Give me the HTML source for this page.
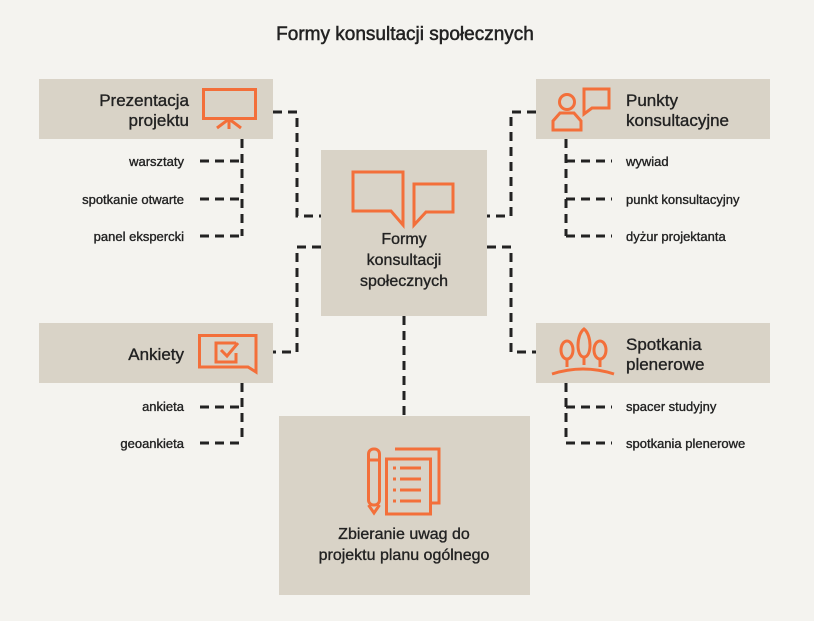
<!DOCTYPE html>
<html><head><meta charset="utf-8"><style>
html,body{margin:0;padding:0;background:#f4f3ef;}
svg{display:block}
text{font-family:"Liberation Sans",sans-serif;fill:#222;stroke:#222;stroke-width:0.35;}
</style></head><body>
<svg width="814" height="621" viewBox="0 0 814 621" xmlns="http://www.w3.org/2000/svg">
<rect width="814" height="621" fill="#f4f3ef"/>
<text x="405" y="40" font-size="19" text-anchor="middle" style="stroke-width:0.5">Formy konsultacji społecznych</text>
<g fill="#d9d3c7">
<rect x="39" y="79" width="234" height="60"/>
<rect x="39" y="323" width="234" height="60"/>
<rect x="536" y="79" width="234" height="60"/>
<rect x="536" y="323" width="234" height="60"/>
<rect x="321" y="150" width="166" height="166"/>
<rect x="279" y="416" width="251" height="179"/>
</g>
<g fill="none" stroke="#222" stroke-width="3" stroke-dasharray="9,6">
<path d="M273 112H297V216H321"/>
<path d="M321 247H297V352H273"/>
<path d="M536 112H511V216H487"/>
<path d="M487 247H511V352H536"/>
<path d="M404 316V416"/>
<path d="M242 139V236"/>
<path d="M200 161H242M200 199H242M200 236H242"/>
<path d="M242 383V443"/>
<path d="M200 407H242M200 443H242"/>
<path d="M566 139V236"/>
<path d="M566 161H612M566 199H612M566 236H612"/>
<path d="M566 383V443"/>
<path d="M566 407H612M566 443H612"/>
</g>
<g font-size="17">
<text x="189" y="106" text-anchor="end">Prezentacja</text>
<text x="189" y="126" text-anchor="end">projektu</text>
<text x="184" y="360" text-anchor="end">Ankiety</text>
<text x="626" y="106">Punkty</text>
<text x="626" y="126">konsultacyjne</text>
<text x="626" y="350">Spotkania</text>
<text x="626" y="370">plenerowe</text>
</g>
<g font-size="16" text-anchor="middle">
<text x="404" y="244">Formy</text>
<text x="404" y="265">konsultacji</text>
<text x="404" y="286">społecznych</text>
<text x="404" y="539">Zbieranie uwag do</text>
<text x="404" y="560">projektu planu ogólnego</text>
</g>
<g font-size="13">
<text x="184" y="166" text-anchor="end">warsztaty</text>
<text x="184" y="204" text-anchor="end">spotkanie otwarte</text>
<text x="184" y="241" text-anchor="end">panel ekspercki</text>
<text x="184" y="411" text-anchor="end">ankieta</text>
<text x="184" y="448" text-anchor="end">geoankieta</text>
<text x="626" y="166">wywiad</text>
<text x="626" y="204">punkt konsultacyjny</text>
<text x="626" y="241">dyżur projektanta</text>
<text x="626" y="411">spacer studyjny</text>
<text x="626" y="448">spotkania plenerowe</text>
</g>
<g fill="none" stroke="#f36f3a" stroke-width="3">
<rect x="203.5" y="89.5" width="52" height="29"/>
<path d="M229 119V129M229 119L217 128M229 119L241 128"/>
<path d="M353 172H403V225L391 211H353Z"/>
<path d="M414 184H453V212H426L414 225Z"/>
<circle cx="567" cy="102" r="7.5"/>
<path d="M553 130V121L560 113H574L581 121V130Z"/>
<path d="M584 89H609V108H592L584 114Z"/>
<path d="M552 374Q583 364 614 374"/>
<path d="M567 367V358M584 365V357M600 367V358"/>
<ellipse cx="567" cy="350" rx="6" ry="9"/>
<path d="M584 329C576 335 576 357 584 357C592 357 592 335 584 329Z"/>
<ellipse cx="600" cy="350" rx="6" ry="9"/>
<path d="M199.5 335.5H256V372L248 367H199.5Z"/>
<path d="M236 343H216V362H236V353"/>
<path d="M221 350L227 356L238 343"/>
<rect x="368.5" y="449" width="11" height="56" rx="5"/>
<path d="M368.5 505L374 513L379.5 505M368.5 460H379.5"/>
<path d="M395 449H439V503H431"/>
<rect x="386.5" y="459" width="44" height="55"/>
<path d="M393 468H396M400 468H421M393 479H396M400 479H421M393 490H396M400 490H421M393 501H396M400 501H421"/>
</g>
</svg>
</body></html>
